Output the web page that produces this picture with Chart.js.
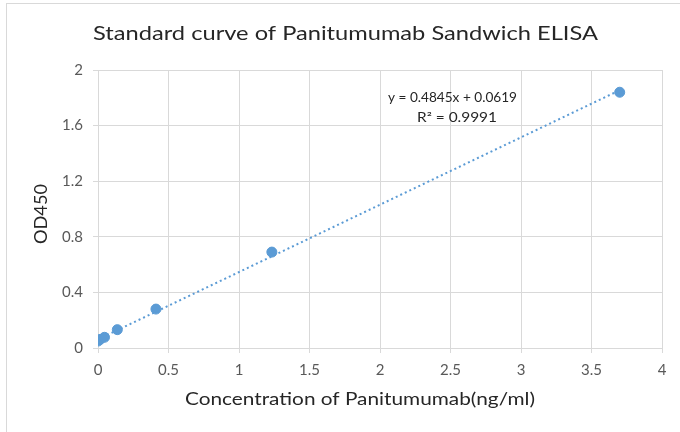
<!DOCTYPE html>
<html>
<head>
<meta charset="utf-8">
<script src="https://cdn.jsdelivr.net/npm/chart.js@4.4.1/dist/chart.umd.min.js"></script>
<style>
  html, body { margin: 0; padding: 0; background: #fff; }
  #wrap { width: 680px; height: 432px; }
</style>
</head>
<body>
<div id="wrap"><canvas id="chart" width="680" height="432"></canvas></div>
<script>
// Standard curve data
const concentrations = [0, 0.015, 0.046, 0.137, 0.411, 1.233, 3.7];
const od450 = [0.05, 0.062, 0.077, 0.132, 0.28, 0.69, 1.84];

// Linear trendline as reported on the chart
const slope = 0.4845;
const intercept = 0.0619;
const trendRange = [0, 3.7];

const xTicks = [0, 0.5, 1, 1.5, 2, 2.5, 3, 3.5, 4];
const yTicks = [0, 0.4, 0.8, 1.2, 1.6, 2];

const FONT = "Lato, 'Open Sans', sans-serif";
const C = {
  point: "#5b9bd5",
  grid: "#d9d9d9",
  tick: "#595959",
  text: "#262626",
};

// Fixed plot box, matches the reference
const BOX = { left: 98, right: 662, top: 70, bottom: 348 };

// draw centred text, stretched horizontally to a target width
function fitText(ctx, text, x, y, w) {
  const k = w / ctx.measureText(text).width;
  ctx.save();
  ctx.translate(x, y);
  ctx.scale(k, 1);
  ctx.fillText(text, 0, 0);
  ctx.restore();
}

const decorations = {
  id: "decorations",
  beforeDraw(chart) {
    const { ctx, width, height } = chart;
    ctx.save();
    ctx.fillStyle = "#fff";
    ctx.fillRect(0, 0, width, height);
    ctx.strokeStyle = C.grid;
    ctx.lineWidth = 1;
    ctx.strokeRect(6.5, 3.5, width, height);
    ctx.restore();
  },
  afterDraw(chart) {
    const { ctx } = chart;
    ctx.save();
    ctx.fillStyle = C.text;
    ctx.textAlign = "center";
    ctx.textBaseline = "middle";

    ctx.font = `19px ${FONT}`;
    fitText(ctx, "Standard curve of Panitumumab Sandwich ELISA", 345.5, 34, 505);

    ctx.font = `17px ${FONT}`;
    fitText(ctx, "Concentration of Panitumumab(ng/ml)", 360, 400, 350);

    ctx.save();
    ctx.translate(42, 214);
    ctx.rotate(-Math.PI / 2);
    fitText(ctx, "OD450", 0, 0, 60);
    ctx.restore();

    ctx.font = `13px ${FONT}`;
    fitText(ctx, `y = ${slope}x + ${intercept}`, 452.5, 98, 129);
    fitText(ctx, "R\u00b2 = 0.9991", 457, 118, 80);
    ctx.restore();
  },
};

new Chart(document.getElementById("chart"), {
  type: "scatter",
  data: {
    datasets: [
      {
        label: "OD450",
        data: concentrations.map((x, i) => ({ x, y: od450[i] })),
        backgroundColor: C.point,
        borderColor: C.point,
        pointRadius: 5,
        order: 1,
      },
      {
        label: "Linear trend",
        type: "line",
        data: trendRange.map((x) => ({ x, y: slope * x + intercept })),
        borderColor: C.point,
        borderWidth: 2,
        borderDash: [2, 3],
        pointRadius: 0,
        fill: false,
        order: 2,
      },
    ],
  },
  options: {
    responsive: false,
    animation: false,
    layout: { padding: { top: BOX.top, right: 680 - BOX.right, left: 0, bottom: 0 } },
    plugins: { legend: { display: false }, tooltip: { enabled: false } },
    scales: {
      x: {
        type: "linear",
        min: 0,
        max: 4,
        afterFit: (s) => { s.height = 432 - BOX.bottom; },
        afterBuildTicks: (s) => { s.ticks = xTicks.map((v) => ({ value: v })); },
        ticks: {
          color: C.tick,
          font: { family: FONT, size: 15 },
          padding: 8,
          maxRotation: 0,
          callback: (v) => String(v),
        },
        grid: { color: C.grid, tickLength: 5, tickColor: C.grid },
        border: { color: C.grid },
      },
      y: {
        min: 0,
        max: 2,
        afterFit: (s) => { s.width = BOX.left; },
        afterBuildTicks: (s) => { s.ticks = yTicks.map((v) => ({ value: v })); },
        ticks: {
          color: C.tick,
          font: { family: FONT, size: 15 },
          padding: 10,
          callback: (v) => String(Number(v.toFixed(1))),
        },
        grid: { color: C.grid, tickLength: 5, tickColor: C.grid },
        border: { color: C.grid },
      },
    },
  },
  plugins: [decorations],
});
</script>
</body>
</html>
